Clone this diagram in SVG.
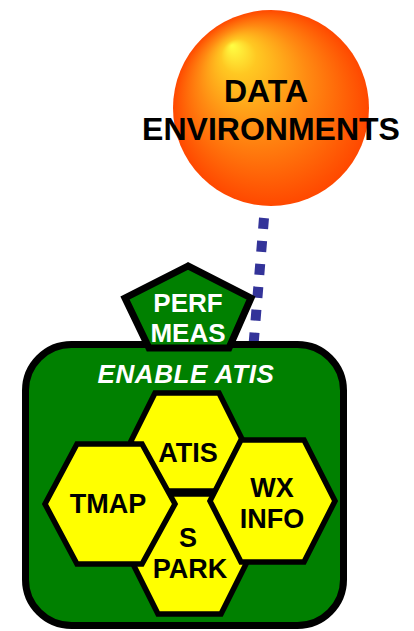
<svg xmlns="http://www.w3.org/2000/svg" width="414" height="631" viewBox="0 0 414 631">
  <defs>
    <radialGradient id="sphereFill" cx="0.5" cy="0.5" r="0.5" fx="0.3" fy="0.18">
      <stop offset="0" stop-color="#ffff44"/>
      <stop offset="0.18" stop-color="#ffc822"/>
      <stop offset="0.55" stop-color="#ff8a12"/>
      <stop offset="1" stop-color="#ff4800"/>
    </radialGradient>
  </defs>
  <style>
    .lbl { font-family: "Liberation Sans", Arial, sans-serif; font-weight: bold; text-anchor: middle; }
    .dark { fill: #000000; }
    .light { fill: #ffffff; }
    .hex { fill: #ffff00; stroke: #000000; stroke-width: 5.5; stroke-linejoin: miter; }
    .box { fill: #008000; stroke: #000000; stroke-width: 7; }
    .link { fill: none; stroke: #333399; stroke-width: 10; stroke-dasharray: 11 12; }
  </style>

  <rect x="0" y="0" width="414" height="631" fill="#ffffff"/>

  <!-- connectors -->
  <g id="connectors">
    <line class="link" x1="264" y1="218" x2="253.5" y2="345"/>
  </g>

  <!-- data environments sphere -->
  <g id="data-environments">
    <circle cx="271" cy="108" r="98" fill="url(#sphereFill)"/>
    <text class="lbl dark" x="266" y="102" font-size="32">DATA</text>
    <text class="lbl dark" x="271" y="140" font-size="32">ENVIRONMENTS</text>
  </g>

  <!-- enabling container -->
  <g id="enable-atis">
    <rect class="box" x="25.5" y="344.5" width="318" height="281" rx="46" ry="46"/>
    <text class="lbl light" x="186" y="383" font-size="26" font-style="italic" letter-spacing="0.6">ENABLE ATIS</text>
  </g>

  <!-- performance measures pentagon -->
  <g id="perf-meas">
    <polygon class="box" stroke-width="6" points="188,266 125,298 149,348 229,348 251,298"/>
    <text class="lbl light" x="188" y="312" font-size="26">PERF</text>
    <text class="lbl light" x="188" y="342" font-size="26">MEAS</text>
  </g>

  <!-- honeycomb cells -->
  <g id="atis">
    <polygon class="hex" points="155,393 219,393 243,441 219,491 155,491 131,441"/>
    <text class="lbl dark" x="188" y="462" font-size="27">ATIS</text>
  </g>

  <g id="s-park">
    <polygon class="hex" points="158,494 221,494 251,554 221,614 158,614 128,554"/>
    <text class="lbl dark" x="188" y="547" font-size="27">S</text>
    <text class="lbl dark" x="190" y="578" font-size="27">PARK</text>
  </g>

  <g id="tmap">
    <polygon class="hex" points="77,444 142,444 175,504 142,564 77,564 45,504"/>
    <text class="lbl dark" x="108" y="513" font-size="27">TMAP</text>
  </g>

  <g id="wx-info">
    <polygon class="hex" points="241,440 304,440 335,501 304,562 241,562 210,501"/>
    <text class="lbl dark" x="272" y="497" font-size="27">WX</text>
    <text class="lbl dark" x="272" y="528" font-size="27">INFO</text>
  </g>
</svg>
